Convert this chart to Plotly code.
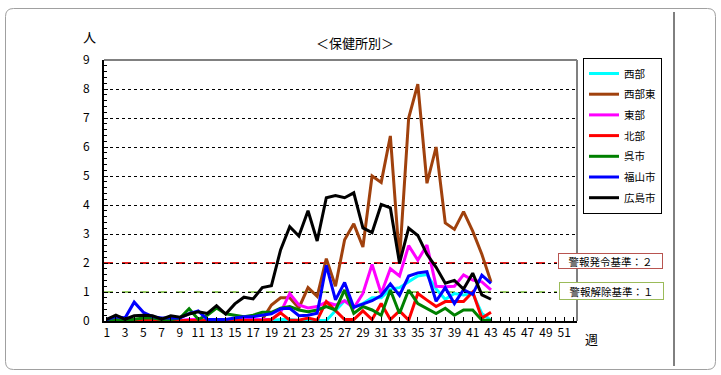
import plotly.graph_objects as go

weeks = list(range(1, 44))

seibu = [0, 0, 0, 0, 0, 0, 0, 0, 0, 0, 0, 0, 0, 0, 0, 0, 0, 0, 0.02, 0.05, 0.05, 0.02, 0.02, 0.02,
         0.02, 0.35, 0.7, 0.5, 0.6, 0.8, 0.8, 1.1, 1.15, 1.35, 1.55, 1.6, 1.1, 0.75, 0.95, 0.9, 0.95, 0.26, 0.03]
seibuhigashi = [0, 0, 0, 0, 0, 0, 0, 0, 0, 0, 0, 0, 0, 0, 0, 0, 0, 0.05, 0.55, 0.8, 0.8, 0.45, 1.15, 0.85,
                2.15, 1.2, 2.8, 3.35, 2.55, 5.0, 4.78, 6.38, 2.1, 7.0, 8.17, 4.75, 6.0, 3.38, 3.16, 3.77, 3.1, 2.3, 1.35]
toubu = [0.02, 0.05, 0.1, 0.05, 0, 0.02, 0, 0.02, 0.02, 0.05, 0.05, 0.02, 0.02, 0.02, 0.05, 0.05, 0.05, 0.05, 0.05, 0.3,
         0.95, 0.55, 0.45, 0.5, 0.65, 0.55, 0.7, 0.45, 0.95, 1.95, 0.95, 1.8, 1.55, 2.6, 2.1, 2.62, 1.2, 1.18, 1.2, 1.59, 1.41, 1.35, 1.07]
hokubu = [0.02, 0.02, 0.02, 0.02, 0.02, 0.02, 0.02, 0.02, 0.02, 0.02, 0.02, 0.02, 0.02, 0.02, 0.02, 0.02, 0.02, 0.02, 0.05, 0.28,
          0.03, 0.03, 0.1, 0.03, 0.67, 0.35, 0.05, 0.05, 0.35, 0.05, 0.6, 0.05, 0.35, 0.03, 0.95, 0.72, 0.5, 0.67, 0.67, 0.67, 1.0, 0.1, 0.3]
kure = [0, 0.05, 0.02, 0.05, 0.1, 0.1, 0.05, 0.05, 0.1, 0.42, 0.06, 0.2, 0.45, 0.25, 0.2, 0.15, 0.2, 0.3, 0.3, 0.44,
        0.5, 0.38, 0.32, 0.38, 0.5, 0.38, 1.07, 0.26, 0.5, 0.38, 0.2, 1.07, 0.26, 1.07, 0.6, 0.44, 0.26, 0.44, 0.2, 0.38, 0.38, 0.03, 0.03]
fukuyama = [0.05, 0.15, 0.1, 0.65, 0.3, 0.15, 0.1, 0.1, 0.1, 0.25, 0.35, 0.05, 0.05, 0.05, 0.1, 0.15, 0.15, 0.2, 0.25, 0.42,
            0.44, 0.18, 0.2, 0.27, 1.92, 0.73, 1.33, 0.47, 0.58, 0.7, 0.88, 1.28, 0.88, 1.55, 1.66, 1.7, 0.68, 1.15, 0.6, 1.08, 0.92, 1.58, 1.3]
hiroshima = [0.06, 0.2, 0.06, 0.18, 0.2, 0.18, 0.06, 0.18, 0.13, 0.24, 0.32, 0.26, 0.53, 0.24, 0.59, 0.82, 0.76, 1.15, 1.22, 2.45,
             3.25, 2.93, 3.8, 2.76, 4.25, 4.33, 4.25, 4.42, 3.21, 3.05, 4.02, 3.9, 2.0, 3.2, 2.95, 2.3, 1.85, 1.3, 1.4, 1.1, 1.65, 0.9, 0.75]

series = [
    ("西部", seibu, "#00FFFF"),
    ("西部東", seibuhigashi, "#A0410D"),
    ("東部", toubu, "#FF00FF"),
    ("北部", hokubu, "#FF0000"),
    ("呉市", kure, "#008000"),
    ("福山市", fukuyama, "#0000FF"),
    ("広島市", hiroshima, "#000000"),
]

x_ticks = list(range(1, 52, 2))
alert_level = 2
release_level = 1

FONT = "Noto Sans CJK JP"
W, H = 721, 375
L, R, T, B = 104, 577, 60, 321


def px(x):
    return (x - L) / (R - L)


def py(y):
    return (B - y) / (B - T)


fig = go.Figure()
for i, (name, vals, col) in enumerate(series):
    fig.add_trace(go.Scatter(x=weeks, y=vals, name=name, mode="lines",
                             line=dict(color=col, width=3), legendgroup=str(i)))

shapes = []
shapes.append(dict(type="line", xref="paper", yref="y", x0=0, x1=px(557), y0=alert_level, y1=alert_level,
                   line=dict(color="#E02020", width=2, dash="dash"), layer="between"))
shapes.append(dict(type="line", xref="paper", yref="y", x0=0, x1=px(557), y0=release_level, y1=release_level,
                   line=dict(color="#99CC66", width=2, dash="dash"), layer="between"))
shapes.append(dict(type="line", xref="paper", yref="paper", x0=0, x1=1, y0=1, y1=1,
                   line=dict(color="#808080", width=2)))
shapes.append(dict(type="line", xref="paper", yref="paper", x0=1, x1=1, y0=0, y1=1,
                   line=dict(color="#808080", width=2)))
shapes.append(dict(type="line", xref="paper", yref="paper", x0=px(674), x1=px(674), y0=py(12), y1=py(366),
                   line=dict(color="#000000", width=1)))
x0, x1, y0, y1, r = px(5.5), px(715.5), py(8.5), py(369.5), 8
rx, ry = r / (R - L), r / (B - T)
path = (f"M {x0+rx},{y0} L {x1-rx},{y0} Q {x1},{y0} {x1},{y0-ry} L {x1},{y1+ry} Q {x1},{y1} {x1-rx},{y1} "
        f"L {x0+rx},{y1} Q {x0},{y1} {x0},{y1+ry} L {x0},{y0-ry} Q {x0},{y0} {x0+rx},{y0} Z")
shapes.append(dict(type="path", xref="paper", yref="paper", path=path, line=dict(color="#A0A0A0", width=1)))


def ann(text, x, y, size, **kw):
    return dict(text=text, xref="paper", yref="paper", x=px(x), y=py(y), xanchor="center", yanchor="middle",
                showarrow=False, font=dict(family=FONT, size=size, color="#000"), **kw)


annotations = [
    ann("＜保健所別＞", 355, 42, 13),
    ann("人", 89, 37, 13),
    ann("週", 591, 338, 13),
    ann("警報発令基準：２", 610.5, 260.5, 10.5, bgcolor="#FFFFFF", bordercolor="#B85450",
        borderwidth=1, borderpad=1, width=101, height=12),
    ann("警報解除基準：１", 611.5, 291, 10.5, bgcolor="#FFFFFF", bordercolor="#9BBB59",
        borderwidth=1, borderpad=1, width=101, height=14),
]

fig.update_layout(
    width=W, height=H,
    margin=dict(l=L, r=W - R, t=T, b=H - B, pad=0),
    paper_bgcolor="#FFFFFF", plot_bgcolor="#FFFFFF",
    font=dict(family=FONT, size=12, color="#000"),
    showlegend=True,
    legend=dict(x=px(583), y=py(58), xanchor="left", yanchor="top", bgcolor="#FFFFFF",
                bordercolor="#000000", borderwidth=1, font=dict(family=FONT, size=10.5),
                tracegroupgap=1.7, traceorder="grouped"),
    shapes=shapes,
    annotations=annotations,
)
fig.update_xaxes(range=[0.7, 52.4], tickvals=x_ticks, ticktext=[str(v) for v in x_ticks],
                 ticks="inside", ticklen=4, tickcolor="#000", showgrid=False, zeroline=False,
                 showline=True, linecolor="#000", linewidth=2, tickfont=dict(size=12),
                 minor=dict(dtick=1, tick0=0, ticks="inside", ticklen=4, tickcolor="#000"))
fig.update_yaxes(range=[0, 9], dtick=1, ticks="inside", ticklen=4, tickcolor="#000",
                 showgrid=True, gridcolor="#000", griddash="dot", gridwidth=1, zeroline=False,
                 showline=True, linecolor="#000", linewidth=2, tickfont=dict(size=12), ticklabelstandoff=10,
                 minor=dict(dtick=0.2, ticks="inside", ticklen=3, tickcolor="#000", showgrid=False))

fig.write_html("out.html")
